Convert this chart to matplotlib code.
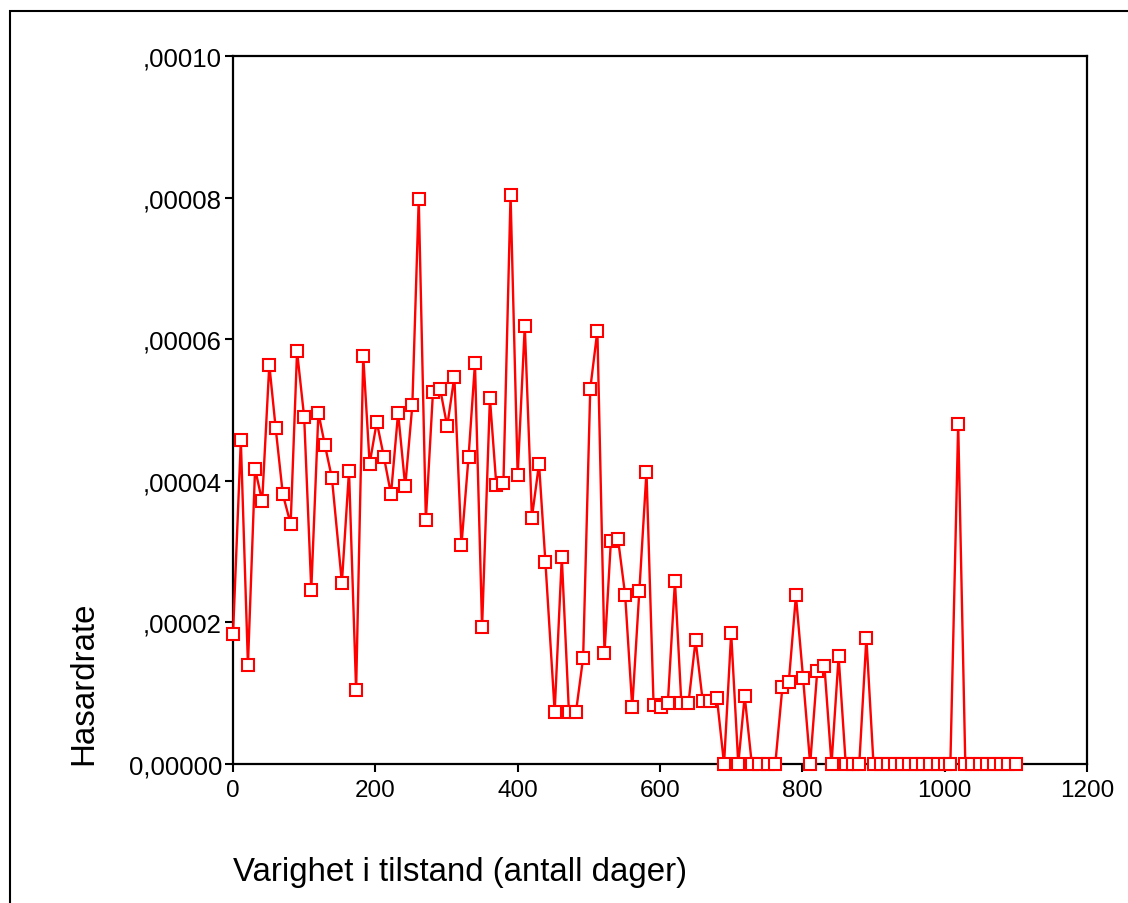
import numpy as np
import matplotlib.pyplot as plt
from matplotlib.patches import Rectangle

plt.rcParams['font.family'] = ['Liberation Sans', 'DejaVu Sans']

#### data ####

# duration (days) at each life-table interval
days = [0, 11, 21, 31, 41, 51, 60, 70, 81, 90,
        100, 110, 120, 129, 139, 153, 163, 173, 183, 192,
        202, 212, 222, 232, 242, 252, 261, 271, 281, 291,
        301, 311, 321, 331, 340, 350, 361, 370, 380, 390,
        400, 410, 420, 430, 439, 452, 462, 472, 482, 492,
        502, 512, 522, 531, 541, 551, 561, 571, 581, 591,
        601, 611, 621, 630, 640, 650, 660, 670, 680, 690,
        700, 710, 719, 729, 739, 752, 762, 772, 781, 791,
        801, 811, 821, 831, 841, 851, 861, 871, 880, 890,
        900, 910, 920, 930, 940, 950, 960, 970, 980, 990,
        1000, 1008, 1019, 1029, 1039, 1049, 1059, 1069, 1079, 1089,
        1100]

# hazard rate, in units of 1e-5
hazard_e5 = [1.83, 4.57, 1.40, 4.17, 3.71, 5.64, 4.74, 3.81, 3.39, 5.83,
             4.90, 2.46, 4.96, 4.51, 4.04, 2.56, 4.14, 1.04, 5.76, 4.24,
             4.83, 4.34, 3.81, 4.96, 3.92, 5.07, 7.98, 3.45, 5.26, 5.30,
             4.77, 5.47, 3.09, 4.34, 5.66, 1.93, 5.17, 3.94, 3.97, 8.04,
             4.08, 6.19, 3.48, 4.24, 2.85, 0.74, 2.92, 0.74, 0.74, 1.50,
             5.30, 6.12, 1.57, 3.15, 3.18, 2.39, 0.80, 2.45, 4.13, 0.83,
             0.81, 0.86, 2.58, 0.86, 0.86, 1.75, 0.89, 0.89, 0.93, 0.0,
             1.85, 0.0, 0.96, 0.0, 0.0, 0.0, 0.0, 1.09, 1.16, 2.38,
             1.22, 0.0, 1.32, 1.39, 0.0, 1.52, 0.0, 0.0, 0.0, 1.78,
             0.0, 0.0, 0.0, 0.0, 0.0, 0.0, 0.0, 0.0, 0.0, 0.0,
             0.0, 0.0, 4.80, 0.0, 0.0, 0.0, 0.0, 0.0, 0.0, 0.0,
             0.0]

x_ticks = [0, 200, 400, 600, 800, 1000, 1200]
y_ticks = [0.0, 0.00002, 0.00004, 0.00006, 0.00008, 0.00010]
y_ticklabels = ['0,00000', ',00002', ',00004', ',00006', ',00008', ',00010']

hazard = np.array(hazard_e5) * 1e-5

#### plot ####

fig = plt.figure(figsize=(11.28, 9.04), dpi=100)
ax = fig.add_axes([233/1128, 1 - 765/904, (1087-233)/1128, (765-57)/904])

ax.plot(days, hazard, color='red', lw=1.7, marker='s', ms=8,
        mfc='white', mec='red', mew=1.5, clip_on=False, zorder=3)

ax.set_xlim(0, 1200)
ax.set_ylim(0, 0.0001)
ax.set_xticks(x_ticks)
ax.set_xticklabels([str(t) for t in x_ticks])
ax.set_yticks(y_ticks)
ax.set_yticklabels(y_ticklabels)
ax.tick_params(axis='both', direction='out', length=6, width=1.5,
               colors='black')
ax.tick_params(axis='y', pad=2, labelsize=18.5)
ax.tick_params(axis='x', pad=5, labelsize=17.5)
for s in ax.spines.values():
    s.set_linewidth(1.6)

fig.text(233/1128, 1 - 873/904, 'Varighet i tilstand (antall dager)',
         fontsize=23.8, ha='left', va='center')
fig.text(84/1128, 1 - 765/904, 'Hasardrate', fontsize=23.8,
         rotation=90, ha='center', va='bottom')

# outer frame (cut by the image edge on the right and bottom)
fig.patches.append(Rectangle((10/1128, -0.2), 2, 1 - 12/904 + 0.2,
                             transform=fig.transFigure, fill=False,
                             lw=1.5, edgecolor='black'))

fig.savefig('out.png', dpi=100)
